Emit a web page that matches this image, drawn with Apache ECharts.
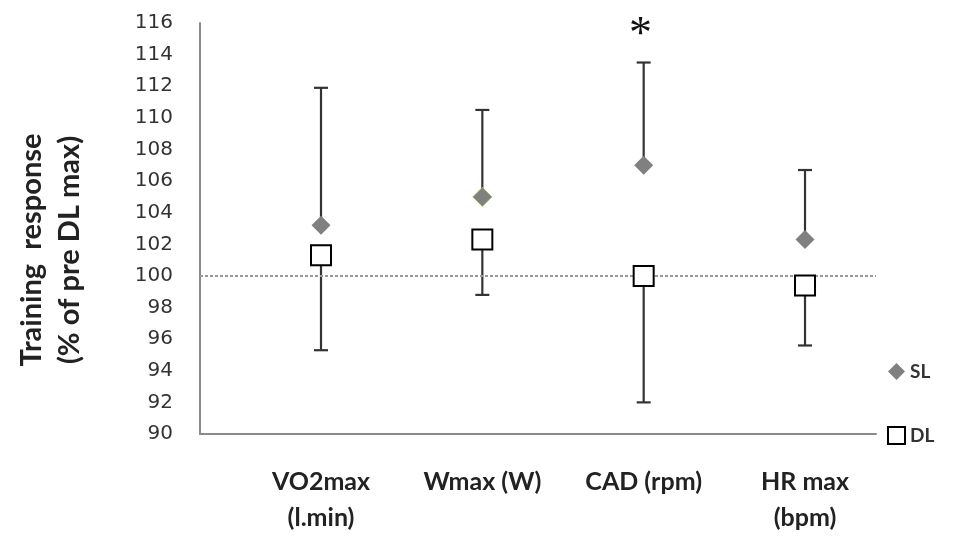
<!DOCTYPE html>
<html lang="en">
<head>
	<meta charset="UTF-8">
	<title>training response</title>
	<style type="text/css">
	body,html{
		width: 100%;
		height: 100%;
		margin: 0;
		padding: 0;
		background: #fff;
	}
	#chart{
		width: 959px;
		height: 536px;
	}
	</style>
</head>
<body>
<div id="chart"></div>
<script type="text/javascript" src="https://cdn.jsdelivr.net/npm/echarts@6/dist/echarts.min.js"></script>
<script type="text/javascript">
	// categories and values
	var categories = ['VO2max\n(l.min)', 'Wmax (W)', 'CAD (rpm)', 'HR max\n(bpm)'];
	var catPos = [1, 2, 3, 4];
	var slMean = [103.2, 105.0, 107.0, 102.3];
	var slUpper = [111.9, 110.5, 113.5, 106.7];
	var dlMean = [101.3, 102.3, 100.0, 99.4];
	var dlLower = [95.3, 98.8, 92.0, 95.6];
	var yTicks = [90, 116, 2]; // min, max, step
	var refLine = 100;
	var starAt = [2.98, 115.2]; // significance mark over CAD

	var chart = echarts.init(document.getElementById('chart'));

	var slData = [], dlData = [], slErr = [], dlErr = [];
	for (var i = 0; i < categories.length; i++) {
		var p = { value: [catPos[i], slMean[i]] };
		if (i === 1) p.itemStyle = { borderColor: '#9bbb59', borderWidth: 1 };
		slData.push(p);
		dlData.push([catPos[i], dlMean[i]]);
		slErr.push([catPos[i], slMean[i], slUpper[i]]);
		dlErr.push([catPos[i], dlLower[i], dlMean[i]]);
	}

	// vertical whisker with a cap at the far end
	function errBar(capAtTop) {
		return function (params, api) {
			var x = api.value(0);
			var a = api.coord([x, api.value(1)]);
			var b = api.coord([x, api.value(2)]);
			var capY = capAtTop ? b[1] : a[1];
			var style = { stroke: '#333', lineWidth: 2.2 };
			return {
				type: 'group',
				children: [
					{ type: 'line', shape: { x1: a[0], y1: a[1], x2: b[0], y2: b[1] }, style: style },
					{ type: 'line', shape: { x1: a[0] - 7, y1: capY, x2: a[0] + 7, y2: capY }, style: style }
				]
			};
		};
	}

	var option = {
		animation: false,
		backgroundColor: '#fff',
		grid: { left: 200, right: 83, top: 23, bottom: 99, containLabel: false },
		legend: {
			orient: 'vertical',
			left: 882,
			top: 357,
			itemGap: 45,
			itemWidth: 17,
			itemHeight: 17,
			textStyle: { fontFamily: 'Lato', fontWeight: 'bold', fontSize: 19, color: '#333' },
			data: [
				{ name: 'SL', icon: 'diamond', itemStyle: { color: '#808080', borderWidth: 0 } },
				{ name: 'DL', icon: 'rect', itemStyle: { color: '#fff', borderColor: '#000', borderWidth: 2 } }
			]
		},
		xAxis: {
			type: 'value',
			min: 0.25,
			max: 4.44,
			interval: 0.25,
			axisLine: { show: true, lineStyle: { color: '#8a8a8a', width: 2 } },
			axisTick: { show: false },
			splitLine: { show: false },
			axisLabel: {
				margin: 30,
				fontFamily: 'Lato',
				fontWeight: 'bold',
				fontSize: 25,
				lineHeight: 36,
				color: '#222',
				align: 'center',
				formatter: function (v) {
					var k = Math.round(v);
					if (Math.abs(v - k) > 1e-6) return '';
					var idx = catPos.indexOf(k);
					return idx < 0 ? '' : categories[idx];
				}
			}
		},
		yAxis: {
			type: 'value',
			min: yTicks[0],
			max: yTicks[1],
			interval: yTicks[2],
			axisLine: { show: true, lineStyle: { color: '#8a8a8a', width: 2 } },
			axisTick: { show: false },
			splitLine: { show: false },
			axisLabel: {
				margin: 27,
				fontFamily: 'DejaVu Sans',
				fontSize: 20,
				color: '#333'
			}
		},
		series: [
			{
				name: 'SL err',
				type: 'custom',
				z: 2,
				renderItem: errBar(true),
				encode: { x: 0, y: [1, 2] },
				data: slErr,
				markLine: {
					silent: true,
					symbol: 'none',
					label: { show: false },
					lineStyle: { type: [3, 2], color: '#999', width: 2 },
					data: [{ yAxis: refLine }]
				}
			},
			{
				name: 'DL err',
				type: 'custom',
				z: 2,
				renderItem: errBar(false),
				encode: { x: 0, y: [1, 2] },
				data: dlErr
			},
			{
				name: 'SL',
				type: 'scatter',
				z: 5,
				symbol: 'diamond',
				symbolSize: 19,
				itemStyle: { color: '#808080', opacity: 1 },
				data: slData
			},
			{
				name: 'DL',
				type: 'scatter',
				z: 5,
				symbol: 'rect',
				symbolSize: 20,
				itemStyle: { color: '#fff', borderColor: '#000', borderWidth: 2, opacity: 1 },
				data: dlData
			}
		]
	};

	chart.setOption(option);

	var star = chart.convertToPixel({ gridIndex: 0 }, starAt);
	chart.setOption({
		graphic: [
			{
				type: 'text',
				x: 51,
				y: 250,
				rotation: Math.PI / 2,
				style: {
					text: 'Training  response\n(% of pre DL max)',
					fontFamily: 'Lato',
					fontWeight: 'bold',
					fontSize: 29,
					lineHeight: 38,
					fill: '#222',
					align: 'center',
					verticalAlign: 'middle'
				}
			},
			{
				type: 'text',
				x: star[0],
				y: star[1],
				style: {
					text: '*',
					fontFamily: 'Liberation Serif',
					fontSize: 46,
					fill: '#111',
					align: 'center',
					verticalAlign: 'middle'
				}
			}
		]
	});

	window.addEventListener('resize', function () {
		chart.resize();
	});
</script>
</body>
</html>
